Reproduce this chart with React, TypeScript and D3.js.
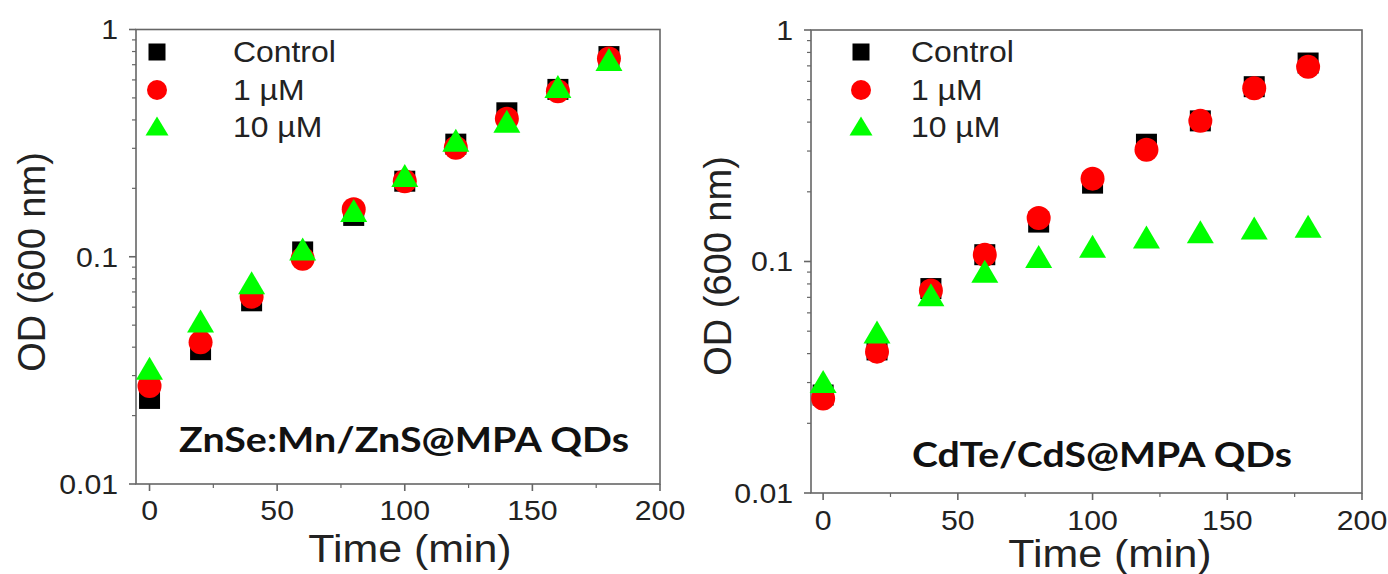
import React from "react";
import * as d3 from "d3";

const times = [0, 20, 40, 60, 80, 100, 120, 140, 160, 180];

const leftControl = [0.0238, 0.039, 0.064, 0.105, 0.152, 0.215, 0.313, 0.43, 0.545, 0.76];
const leftOne = [0.027, 0.042, 0.0667, 0.098, 0.162, 0.215, 0.302, 0.405, 0.535, 0.745];
const leftTen = [0.0319, 0.0515, 0.076, 0.107, 0.158, 0.225, 0.322, 0.39, 0.555, 0.73];

const rightControl = [0.0265, 0.0415, 0.0764, 0.107, 0.148, 0.218, 0.321, 0.405, 0.569, 0.72];
const rightOne = [0.0256, 0.0408, 0.075, 0.107, 0.154, 0.228, 0.304, 0.405, 0.56, 0.693];
const rightTen = [0.03, 0.049, 0.071, 0.0898, 0.104, 0.115, 0.126, 0.133, 0.138, 0.1405];

const xTicks = [0, 50, 100, 150, 200];
const xMinor = [25, 75, 125, 175];
const yTickLabels = ["1", "0.1", "0.01"];
const yTickValues = [1, 0.1, 0.01];
const seriesNames = ["Control", "1 µM", "10 µM"];

const axisColor = "#666";
const textColor = "#222";
const FONT = "Liberation Sans, Arial, sans-serif";

function SText({
  x,
  y,
  size,
  anchor,
  sx = 1.08,
  rotate = 0,
  children,
}: {
  x: number;
  y: number;
  size: number;
  anchor: "start" | "middle" | "end";
  sx?: number;
  rotate?: number;
  children: React.ReactNode;
}) {
  return (
    <text
      transform={`translate(${x},${y}) rotate(${rotate}) scale(${sx},1)`}
      dy="0.35em"
      textAnchor={anchor}
      fontFamily={FONT}
      fontSize={size}
      fill={textColor}
    >
      {children}
    </text>
  );
}

type PanelProps = {
  left: number;
  right: number;
  top: number;
  bottom: number;
  xMin: number;
  control: number[];
  one: number[];
  ten: number[];
  label: string;
  labelX: number;
  labelY: number;
  labelW: number;
  yTitleX: number;
  yTitleY: number;
  xTitleX: number;
  xTitleY: number;
  legendX: number;
  legendTextX: number;
  tickLabelY: number;
};

function Triangle({ cx, cy, w, h, fill }: { cx: number; cy: number; w: number; h: number; fill: string }) {
  const p = d3.path();
  p.moveTo(cx, cy - h * 0.55);
  p.lineTo(cx + w / 2, cy + h * 0.45);
  p.lineTo(cx - w / 2, cy + h * 0.45);
  p.closePath();
  return <path d={p.toString()} fill={fill} />;
}

function Panel(props: PanelProps) {
  const x = d3.scaleLinear().domain([props.xMin, 200]).range([props.left, props.right]);
  const y = d3.scaleLog().domain([0.01, 1]).range([props.bottom, props.top]);
  const minorY: number[] = [];
  for (const dec of [0.01, 0.1]) {
    for (let k = 2; k <= 9; k++) minorY.push(dec * k);
  }
  const sq = 21;
  const r = 12;
  const legendRows = [52, 90, 127];
  return (
    <g>
      <rect
        x={props.left}
        y={props.top}
        width={props.right - props.left}
        height={props.bottom - props.top}
        fill="none"
        stroke={axisColor}
        strokeWidth={1.6}
      />
      {yTickValues.map((v, i) => (
        <g key={"yt" + i}>
          <line x1={props.left - 7} x2={props.left} y1={y(v)} y2={y(v)} stroke={axisColor} strokeWidth={1.6} />
          <SText x={props.left - 18} y={y(v)} size={28} anchor="end">
            {yTickLabels[i]}
          </SText>
        </g>
      ))}
      {minorY.map((v, i) => (
        <line key={"ym" + i} x1={props.left - 4} x2={props.left} y1={y(v)} y2={y(v)} stroke={axisColor} strokeWidth={1.2} />
      ))}
      {xTicks.map((t) => (
        <g key={"xt" + t}>
          <line x1={x(t)} x2={x(t)} y1={props.bottom} y2={props.bottom + 7} stroke={axisColor} strokeWidth={1.6} />
          <SText x={x(t)} y={props.tickLabelY} size={28} anchor="middle">
            {t}
          </SText>
        </g>
      ))}
      {xMinor.map((t) => (
        <line key={"xm" + t} x1={x(t)} x2={x(t)} y1={props.bottom} y2={props.bottom + 4} stroke={axisColor} strokeWidth={1.2} />
      ))}
      <SText x={props.xTitleX} y={props.xTitleY} size={39} anchor="middle" sx={1.1}>
        Time (min)
      </SText>
      <SText x={props.yTitleX} y={props.yTitleY} size={38} anchor="middle" sx={1} rotate={-90}>
        OD (600 nm)
      </SText>
      {times.map((t, i) => (
        <rect key={"c" + i} x={x(t) - sq / 2} y={y(props.control[i]) - sq / 2} width={sq} height={sq} fill="#000" />
      ))}
      {times.map((t, i) => (
        <circle key={"o" + i} cx={x(t)} cy={y(props.one[i])} r={r} fill="#ff0000" />
      ))}
      {times.map((t, i) => (
        <Triangle key={"t" + i} cx={x(t)} cy={y(props.ten[i])} w={27} h={23} fill="#00ff00" />
      ))}
      <rect x={props.legendX - 8.5} y={legendRows[0] - 8.5} width={17} height={17} fill="#000" />
      <circle cx={props.legendX} cy={legendRows[1]} r={10} fill="#ff0000" />
      <Triangle cx={props.legendX} cy={legendRows[2]} w={23} h={19} fill="#00ff00" />
      {seriesNames.map((n, i) => (
        <SText key={"lg" + i} x={props.legendTextX} y={legendRows[i]} size={29} anchor="start" sx={1.1}>
          {n}
        </SText>
      ))}
      <text
        x={props.labelX}
        y={props.labelY}
        dy="0.35em"
        textAnchor="middle"
        fontFamily="Lato, Open Sans, sans-serif"
        fontWeight="bold"
        fontSize={34}
        textLength={props.labelW}
        lengthAdjust="spacingAndGlyphs"
        fill="#111"
      >
        {props.label}
      </text>
    </g>
  );
}

export default function App() {
  return (
    <svg width={1388} height={574} style={{ position: "absolute", left: 0, top: 0, background: "#fff" }}>
      <rect width={1388} height={574} fill="#fff" />
      <Panel
        left={136}
        right={660}
        top={29.5}
        bottom={484}
        xMin={-5.3}
        control={leftControl}
        one={leftOne}
        ten={leftTen}
        label="ZnSe:Mn/ZnS@MPA QDs"
        labelX={404}
        labelY={440}
        labelW={450}
        yTitleX={32}
        yTitleY={262}
        xTitleX={410}
        xTitleY={548}
        legendX={157}
        legendTextX={233}
        tickLabelY={510}
      />
      <Panel
        left={811}
        right={1362}
        top={30}
        bottom={493}
        xMin={-4.5}
        control={rightControl}
        one={rightOne}
        ten={rightTen}
        label="CdTe/CdS@MPA QDs"
        labelX={1102}
        labelY={455}
        labelW={380}
        yTitleX={718}
        yTitleY={266}
        xTitleX={1110}
        xTitleY={553}
        legendX={861}
        legendTextX={911}
        tickLabelY={520}
      />
    </svg>
  );
}
